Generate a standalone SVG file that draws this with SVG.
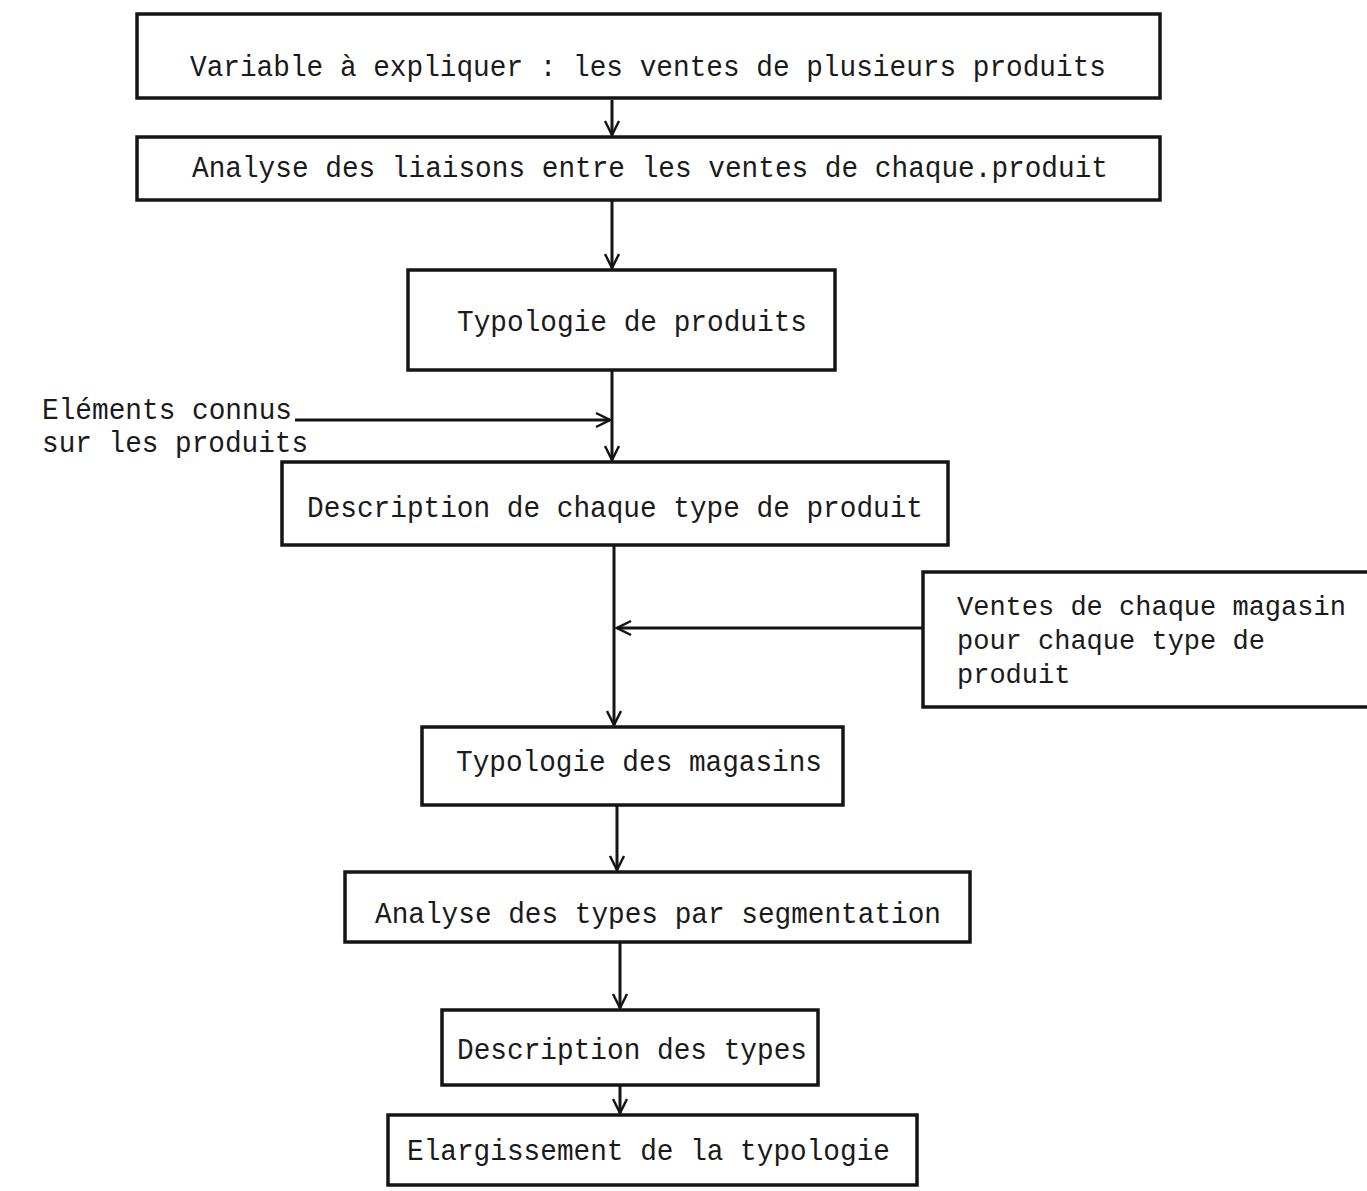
<svg xmlns="http://www.w3.org/2000/svg" width="1367" height="1191" viewBox="0 0 1367 1191">
<style>
.box{fill:none;stroke:#151515;stroke-width:3.5}
.t{font-family:"Liberation Mono","DejaVu Sans Mono",monospace;font-size:30px;fill:#1a1a1a}
.s{font-size:27px}
.c{fill:none;stroke:#151515;stroke-width:3}
</style>
<defs>
<marker id="ah" viewBox="0 0 20 20" refX="18" refY="10" markerWidth="20" markerHeight="20" markerUnits="userSpaceOnUse" orient="auto">
<polyline points="4,3 18,10 4,17" fill="none" stroke="#151515" stroke-width="2.5"/>
</marker>
</defs>
<rect width="1367" height="1191" fill="#ffffff"/>
<g id="connectors">
<line class="c" x1="612" y1="100" x2="612" y2="135" marker-end="url(#ah)"/>
<line class="c" x1="612" y1="200" x2="612" y2="268" marker-end="url(#ah)"/>
<line class="c" x1="612" y1="370" x2="612" y2="460" marker-end="url(#ah)"/>
<line class="c" x1="295" y1="420" x2="610" y2="420" marker-end="url(#ah)"/>
<line class="c" x1="614" y1="545" x2="614" y2="725" marker-end="url(#ah)"/>
<line class="c" x1="923" y1="628" x2="617" y2="628" marker-end="url(#ah)"/>
<line class="c" x1="617" y1="805" x2="617" y2="870" marker-end="url(#ah)"/>
<line class="c" x1="620" y1="942" x2="620" y2="1008" marker-end="url(#ah)"/>
<line class="c" x1="620" y1="1085" x2="620" y2="1113" marker-end="url(#ah)"/>
</g>
<g id="n1"><rect class="box" x="137" y="14" width="1023" height="84"/><text class="t" x="190" y="76" textLength="916" lengthAdjust="spacingAndGlyphs">Variable à expliquer : les ventes de plusieurs produits</text></g>
<g id="n2"><rect class="box" x="137" y="137" width="1023" height="63"/><text class="t" x="192" y="177" textLength="916" lengthAdjust="spacingAndGlyphs">Analyse des liaisons entre les ventes de chaque.produit</text></g>
<g id="n3"><rect class="box" x="408" y="270" width="427" height="100"/><text class="t" x="457" y="331" textLength="350" lengthAdjust="spacingAndGlyphs">Typologie de produits</text></g>
<g id="n_in1"><text class="t" x="42" y="419" textLength="250" lengthAdjust="spacingAndGlyphs">Eléments connus</text><text class="t" x="42" y="452" textLength="266" lengthAdjust="spacingAndGlyphs">sur les produits</text></g>
<g id="n4"><rect class="box" x="282" y="462" width="666" height="83"/><text class="t" x="307" y="517" textLength="616" lengthAdjust="spacingAndGlyphs">Description de chaque type de produit</text></g>
<g id="n_in2"><path class="box" d="M1367,572 L923,572 L923,707 L1367,707"/><text class="t s" x="957" y="615">Ventes de chaque magasin</text><text class="t s" x="957" y="649">pour chaque type de</text><text class="t s" x="957" y="683">produit</text></g>
<g id="n5"><rect class="box" x="422" y="727" width="421" height="78"/><text class="t" x="456" y="771" textLength="366" lengthAdjust="spacingAndGlyphs">Typologie des magasins</text></g>
<g id="n6"><rect class="box" x="345" y="872" width="625" height="70"/><text class="t" x="375" y="923" textLength="566" lengthAdjust="spacingAndGlyphs">Analyse des types par segmentation</text></g>
<g id="n7"><rect class="box" x="442" y="1010" width="376" height="75"/><text class="t" x="457" y="1059" textLength="350" lengthAdjust="spacingAndGlyphs">Description des types</text></g>
<g id="n8"><rect class="box" x="388" y="1115" width="529" height="70"/><text class="t" x="407" y="1160" textLength="483" lengthAdjust="spacingAndGlyphs">Elargissement de la typologie</text></g>
</svg>
